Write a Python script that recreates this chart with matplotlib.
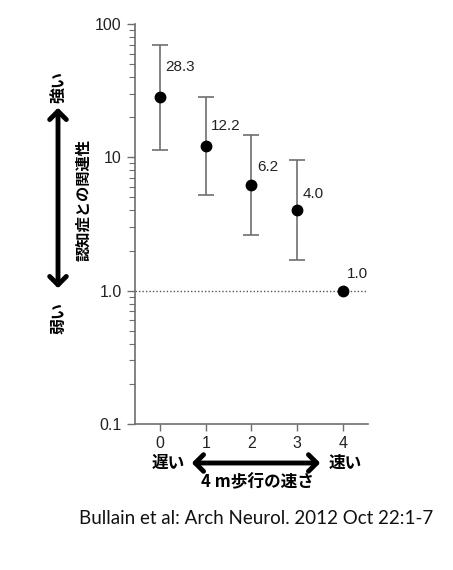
import matplotlib
matplotlib.use('Agg')
import matplotlib.pyplot as plt
import matplotlib.ticker as mticker

plt.rcParams['font.family'] = ['Liberation Sans Narrow', 'Liberation Sans', 'DejaVu Sans']

# odds ratios by walking-speed quartile (0 = slowest, 4 = reference)
groups = [0, 1, 2, 3, 4]
odds = [28.3, 12.2, 6.2, 4.0, 1.0]
ci_low = [11.4, 5.2, 2.6, 1.7, 1.0]
ci_high = [69.5, 28.4, 14.7, 9.5, 1.0]
value_labels = ['28.3', '12.2', '6.2', '4.0', '1.0']
y_ticks = [0.1, 1.0, 10, 100]
y_tick_labels = ['0.1', '1.0', '10', '100']

# label offsets (points) from each marker
label_offsets = [(4, 22), (4, 14), (4, 13), (4, 12), (3, 12)]

JP = ['Noto Sans CJK JP', 'DejaVu Sans']
GRAY = '#6e6e6e'

fig = plt.figure(figsize=(4.53, 5.70), dpi=100)
ax = fig.add_axes([0.298, 0.256, 0.514, 0.702])

ax.axhline(1.0, color='#555555', linestyle=(0, (1, 1.5)), linewidth=1.0, zorder=1)

for x, y, lo, hi in zip(groups, odds, ci_low, ci_high):
    if hi > lo:
        ax.errorbar(x, y, yerr=[[y - lo], [hi - y]], fmt='none',
                    ecolor=GRAY, elinewidth=1.2, capsize=6, capthick=1.2, zorder=2)
ax.plot(groups, odds, 'o', color='black', markersize=7.5, zorder=3)

for x, y, lab, off in zip(groups, odds, value_labels, label_offsets):
    ax.annotate(lab, (x, y), textcoords='offset points', xytext=off,
                fontsize=11, color='#222222', ha='left', va='center')

ax.set_yscale('log')
ax.set_ylim(0.1, 100)
ax.set_xlim(-0.55, 4.55)
ax.set_yticks(y_ticks)
ax.set_yticklabels(y_tick_labels)
ax.yaxis.set_minor_locator(mticker.LogLocator(base=10, subs=range(2, 10)))
ax.yaxis.set_minor_formatter(mticker.NullFormatter())
ax.set_xticks(groups)
ax.set_xticklabels([str(g) for g in groups])

for side in ['top', 'right']:
    ax.spines[side].set_visible(False)
for side in ['left', 'bottom']:
    ax.spines[side].set_color(GRAY)
    ax.spines[side].set_linewidth(1.2)
ax.tick_params(axis='both', which='major', colors=GRAY, labelcolor='#222222',
               labelsize=11.5, length=6, width=1.0)
ax.tick_params(axis='y', which='minor', colors=GRAY, length=4, width=0.8)
ax.tick_params(axis='x', which='major', length=5)

# left annotation: association strength
fig.text(58 / 453, 1 - 87 / 570, '強い', rotation=90, ha='center', va='center',
         family=JP, fontweight='bold', fontsize=11.5)
fig.text(58 / 453, 1 - 318 / 570, '弱い', rotation=90, ha='center', va='center',
         family=JP, fontweight='bold', fontsize=11.5)
fig.text(83 / 453, 1 - 200 / 570, '認知症との関連性', rotation=90, ha='center', va='center',
         family=JP, fontweight='bold', fontsize=11)
fig.patches.append(matplotlib.patches.FancyArrowPatch(
    (58 / 453, 1 - 105 / 570), (58 / 453, 1 - 291 / 570), transform=fig.transFigure,
    arrowstyle='<->,head_length=6,head_width=6', color='black', linewidth=3.5,
    mutation_scale=1))

# bottom annotation: walking speed
fig.text(168 / 453, 1 - 463 / 570, '遅い', ha='center', va='center',
         family=JP, fontweight='bold', fontsize=12)
fig.text(345 / 453, 1 - 463 / 570, '速い', ha='center', va='center',
         family=JP, fontweight='bold', fontsize=12)
fig.text(257 / 453, 1 - 482 / 570, '4 m歩行の速さ', ha='center', va='center',
         family=JP, fontweight='bold', fontsize=12)
fig.patches.append(matplotlib.patches.FancyArrowPatch(
    (189 / 453, 1 - 463 / 570), (323 / 453, 1 - 463 / 570), transform=fig.transFigure,
    arrowstyle='<->,head_length=6,head_width=6', color='black', linewidth=3.5,
    mutation_scale=1))

fig.text(256 / 453, 1 - 518 / 570, 'Bullain et al: Arch Neurol. 2012 Oct 22:1-7',
         ha='center', va='center', family=['Lato', 'DejaVu Sans'],
         fontsize=13.5, color='#111111')

fig.savefig('out.png', dpi=100)
